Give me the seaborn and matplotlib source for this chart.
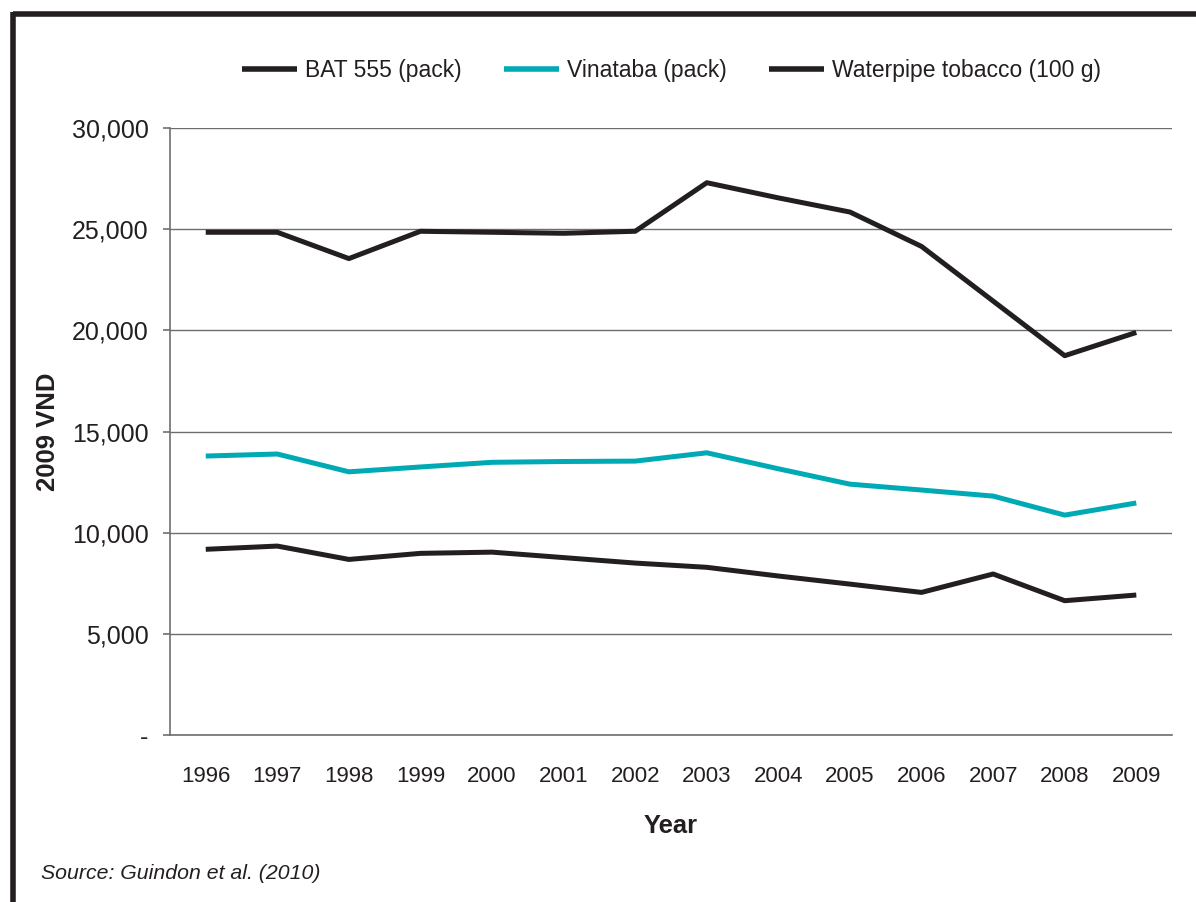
import matplotlib
matplotlib.use("Agg")
import matplotlib.pyplot as plt
from matplotlib.lines import Line2D
from matplotlib.ticker import FuncFormatter
import seaborn as sns
import pandas as pd

# Real cigarette / tobacco prices, 2009 VND
years = list(range(1996, 2010))
bat_555 = [24850, 24850, 23550, 24900, 24850, 24800, 24900,
           27300, 26550, 25850, 24150, 21450, 18750, 19900]
vinataba = [13790, 13890, 13010, 13250, 13480, 13520, 13540,
            13950, 13160, 12400, 12110, 11810, 10870, 11470]
waterpipe = [9180, 9340, 8680, 8980, 9040, 8770, 8500,
             8290, 7860, 7460, 7050, 7960, 6640, 6920]
series_names = ["BAT 555 (pack)", "Vinataba (pack)", "Waterpipe tobacco (100 g)"]
y_ticks = [0, 5000, 10000, 15000, 20000, 25000, 30000]

INK = "#231f20"
TEAL = "#00aab5"
GRID = "#6d6e70"

df = pd.DataFrame({
    "Year": years * 3,
    "Price": bat_555 + vinataba + waterpipe,
    "Series": [series_names[0]] * 14 + [series_names[1]] * 14 + [series_names[2]] * 14,
})

sns.set_style("white")
plt.rcParams["font.family"] = ["Liberation Sans", "DejaVu Sans"]

fig = plt.figure(figsize=(11.96, 9.02), dpi=100)
ax = fig.add_axes([0.1421, 0.1851, 0.98 - 0.1421, 0.6729])

sns.lineplot(data=df, x="Year", y="Price", hue="Series",
             palette=[INK, TEAL, INK], linewidth=3.6, ax=ax,
             legend=False, solid_capstyle="butt")

ax.set_xlim(1995.5, 2009.5)
ax.set_ylim(0, 30000)
ax.set_yticks(y_ticks)
ax.yaxis.set_major_formatter(FuncFormatter(lambda v, p: "-" if v == 0 else f"{int(v):,}"))
ax.set_xticks(years)
ax.set_xticklabels([str(y) for y in years])
ax.set_xticks([y - 0.5 for y in years] + [2009.5], minor=True)

ax.grid(axis="y", color=GRID, linewidth=1.0)
ax.set_axisbelow(True)
for side in ["top", "right"]:
    ax.spines[side].set_visible(False)
for side in ["left", "bottom"]:
    ax.spines[side].set_color(GRID)
    ax.spines[side].set_linewidth(1.2)

ax.tick_params(axis="x", which="major", length=0, labelsize=16, colors=INK, pad=22)
ax.tick_params(axis="x", which="minor", length=9, width=1.2, color=GRID, direction="out")
ax.tick_params(axis="y", which="major", left=True, length=5, width=1.2, color=GRID,
               labelsize=18, labelcolor=INK, pad=10.5)

ax.set_xlabel("Year", fontsize=18.4, fontweight="bold", color=INK, labelpad=20)
ax.set_ylabel("2009 VND", fontsize=18.5, fontweight="bold", color=INK)
ax.yaxis.set_label_coords(-0.110, 0.5)

handles = [Line2D([], [], color=c, linewidth=4, solid_capstyle="butt")
           for c in [INK, TEAL, INK]]
fig.legend(handles, series_names, loc="center", bbox_to_anchor=(0.5615, 0.922),
           ncol=3, frameon=False, fontsize=16.5, handlelength=2.4,
           columnspacing=1.85, handletextpad=0.35, labelcolor=INK)

fig.text(0.034, 0.025, "Source: Guindon et al. (2010)", fontsize=15.3,
         style="italic", color=INK)

# thick frame at top and left
fig.add_artist(Line2D([0.011, 1.0], [0.985, 0.985], color=INK, linewidth=4,
                      transform=fig.transFigure, solid_capstyle="butt"))
fig.add_artist(Line2D([0.011, 0.011], [0.987, 0.0], color=INK, linewidth=4,
                      transform=fig.transFigure, solid_capstyle="butt"))

fig.savefig("out.png", dpi=100, facecolor="white")
